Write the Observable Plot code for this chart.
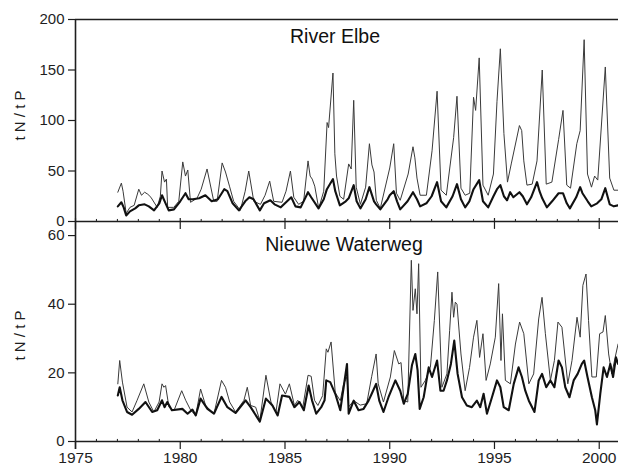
<!DOCTYPE html>
<html><head><meta charset="utf-8">
<script src="https://cdn.jsdelivr.net/npm/d3@7"></script>
<script src="https://cdn.jsdelivr.net/npm/@observablehq/plot@0.6"></script>
<style>
body{margin:0;background:#fff;}
#chart{position:relative;width:618px;height:465px;overflow:hidden;background:#fff;}
#chart svg{position:absolute;left:0;}
</style></head><body><div id="chart"></div>
<script>
// ---- data: [year, ratio] ----
const panelTitles = ["River Elbe", "Nieuwe Waterweg"];
const yLabel = "t\u00a0N\u00a0/\u00a0t\u00a0P";
const elbeTicks = [0, 50, 100, 150, 200];
const nwwTicks = [0, 20, 40, 60];
const majorYears = [1975, 1980, 1985, 1990, 1995, 2000];
const minorYears = [1976,1977,1978,1979,1981,1982,1983,1984,1986,1987,1988,1989,1991,1992,1993,1994,1996,1997,1998,1999];

const elbeThin = [[1977.02,29],[1977.19,38],[1977.27,30],[1977.42,8],[1977.6,14],[1977.8,16],[1978.02,32],[1978.15,26],[1978.3,29],[1978.45,27],[1978.6,24],[1978.9,14],[1979.05,25],[1979.13,50],[1979.25,39],[1979.34,42],[1979.4,14],[1979.69,14],[1979.93,20],[1980.12,59],[1980.25,45],[1980.36,51],[1980.49,19],[1980.8,23],[1981.0,32],[1981.28,52],[1981.6,20],[1981.76,20],[1982.0,58],[1982.16,49],[1982.35,35],[1982.55,20],[1982.87,11],[1983.1,30],[1983.27,50],[1983.51,20],[1983.83,17],[1984.05,26],[1984.27,40],[1984.46,20],[1984.86,19],[1985.05,30],[1985.26,50],[1985.42,24],[1985.65,17],[1985.89,20],[1986.1,60],[1986.2,45],[1986.3,42],[1986.42,35],[1986.61,13],[1986.85,30],[1987.01,98],[1987.08,93],[1987.29,147],[1987.38,67],[1987.46,45],[1987.62,25],[1987.8,22],[1988.04,57],[1988.16,52],[1988.28,120],[1988.4,34],[1988.6,17],[1988.85,34],[1989.03,77],[1989.15,56],[1989.25,49],[1989.36,21],[1989.55,13],[1990.0,53],[1990.19,77],[1990.32,28],[1990.5,21],[1990.88,47],[1991.11,74],[1991.2,63],[1991.3,43],[1991.45,26],[1991.75,26],[1992.02,70],[1992.26,129],[1992.45,31],[1992.7,26],[1993.05,83],[1993.21,124],[1993.4,33],[1993.6,26],[1993.82,28],[1994.0,123],[1994.1,110],[1994.27,162],[1994.45,36],[1994.7,26],[1994.95,47],[1995.12,119],[1995.28,171],[1995.45,87],[1995.62,39],[1995.8,57],[1996.19,95],[1996.3,90],[1996.4,60],[1996.55,36],[1996.8,37],[1997.03,60],[1997.28,150],[1997.47,37],[1997.74,39],[1998.06,81],[1998.27,110],[1998.45,36],[1998.63,33],[1998.93,77],[1999.09,90],[1999.28,180],[1999.44,47],[1999.63,34],[1999.78,45],[1999.93,41],[2000.29,153],[2000.5,43],[2000.7,31],[2000.9,31]];

const elbeThick = [[1977.02,15],[1977.19,19],[1977.3,14],[1977.42,6],[1977.6,10],[1977.85,13],[1978.02,16],[1978.3,17],[1978.5,15],[1978.75,11],[1979.0,18],[1979.13,26],[1979.3,18],[1979.45,11],[1979.7,12],[1980.0,20],[1980.25,28],[1980.4,22],[1980.6,22],[1980.9,23],[1981.2,26],[1981.5,20],[1981.8,22],[1982.1,32],[1982.25,30],[1982.5,18],[1982.8,11],[1983.1,20],[1983.3,24],[1983.5,22],[1983.8,11],[1984.0,18],[1984.3,21],[1984.5,17],[1984.8,14],[1985.1,20],[1985.3,24],[1985.5,15],[1985.75,14],[1986.1,29],[1986.25,24],[1986.6,13],[1986.85,22],[1987.0,32],[1987.29,42],[1987.4,30],[1987.62,16],[1987.9,20],[1988.04,23],[1988.28,36],[1988.42,20],[1988.6,13],[1988.85,22],[1989.03,34],[1989.25,20],[1989.35,17],[1989.55,12],[1989.9,22],[1990.0,26],[1990.19,30],[1990.35,20],[1990.5,12],[1990.85,20],[1991.11,29],[1991.3,22],[1991.45,15],[1991.75,18],[1992.0,25],[1992.26,39],[1992.45,20],[1992.7,14],[1993.0,25],[1993.21,37],[1993.4,22],[1993.6,14],[1993.8,20],[1994.0,32],[1994.27,41],[1994.45,20],[1994.7,14],[1994.95,25],[1995.12,32],[1995.28,36],[1995.45,25],[1995.6,21],[1995.75,29],[1995.9,24],[1996.19,29],[1996.35,25],[1996.55,17],[1996.75,24],[1997.03,39],[1997.15,30],[1997.28,23],[1997.5,14],[1997.75,20],[1998.06,28],[1998.27,28],[1998.45,18],[1998.6,13],[1998.9,24],[1999.09,34],[1999.2,28],[1999.45,20],[1999.62,15],[1999.9,18],[2000.1,22],[2000.29,33],[2000.5,17],[2000.7,15],[2000.9,16]];

const nwwThin = [[1977.02,16.8],[1977.11,23.6],[1977.24,17.3],[1977.46,10],[1977.7,8.6],[1977.94,12],[1978.26,16.8],[1978.5,11.5],[1978.74,8.6],[1978.99,11.5],[1979.13,16.8],[1979.22,15.8],[1979.3,16.3],[1979.46,10],[1979.7,9],[1980.07,14.8],[1980.26,12],[1980.5,9.1],[1980.74,7.6],[1980.97,15.3],[1981.21,10.5],[1981.61,8.1],[1981.97,17.8],[1982.16,15.8],[1982.36,11.5],[1982.64,8.6],[1983.04,12],[1983.2,15.8],[1983.36,10.5],[1983.6,10],[1983.8,6.1],[1984.09,19.3],[1984.33,11.5],[1984.57,8.6],[1984.76,16.8],[1985.02,13.8],[1985.21,16.8],[1985.45,10.5],[1985.61,12],[1985.85,10],[1986.1,19.3],[1986.25,19],[1986.41,12],[1986.57,10.5],[1986.8,13.4],[1986.97,27],[1987.05,26],[1987.2,29],[1987.4,14.2],[1987.64,11.9],[1987.8,16.8],[1987.96,18.8],[1988.04,10.1],[1988.28,11.9],[1988.59,10.6],[1988.9,11],[1989.14,19],[1989.35,25.5],[1989.45,16.8],[1989.7,11.5],[1990.03,18.8],[1990.22,26.5],[1990.43,22.6],[1990.54,23],[1990.67,11.9],[1990.86,11.5],[1991.03,52.8],[1991.11,38.2],[1991.22,44.5],[1991.3,37.2],[1991.38,51.8],[1991.49,15.8],[1991.7,17.8],[1991.94,21.6],[1992.13,35.3],[1992.29,49.4],[1992.49,15.8],[1992.73,19.7],[1992.86,32.4],[1992.97,43.5],[1993.05,36.2],[1993.13,40.6],[1993.21,40],[1993.4,25.5],[1993.6,14.8],[1993.81,21.6],[1994.0,30.4],[1994.16,35.3],[1994.29,24.5],[1994.45,31.4],[1994.6,17.8],[1994.8,22.6],[1995.04,30.4],[1995.2,46],[1995.31,23.6],[1995.38,37.2],[1995.52,17.8],[1995.76,16.8],[1996.0,28.4],[1996.2,34.8],[1996.4,31.4],[1996.64,16.8],[1996.87,19.7],[1997.11,35.7],[1997.27,42],[1997.43,31.4],[1997.67,17.8],[1997.86,23.6],[1998.03,34.8],[1998.22,33.3],[1998.5,16.8],[1998.7,23.6],[1998.94,36.2],[1999.09,30.4],[1999.22,45.5],[1999.37,48.8],[1999.49,35.3],[1999.65,18.8],[1999.86,18.8],[2000.02,31.4],[2000.18,31.9],[2000.29,36.7],[2000.45,25.5],[2000.6,19.7],[2000.76,24.5],[2000.9,28.4]];

const nwwThick = [[1977.02,13.4],[1977.11,15.8],[1977.24,12],[1977.46,8.6],[1977.7,7.8],[1978.02,9.5],[1978.34,11.5],[1978.66,8.6],[1978.9,9.1],[1979.13,12],[1979.25,10],[1979.38,11.5],[1979.6,9.1],[1980.1,9.5],[1980.35,8.1],[1980.58,9.3],[1980.74,7.6],[1980.97,12.5],[1981.3,9.5],[1981.61,8.1],[1981.97,13],[1982.25,10],[1982.64,8.3],[1983.12,12],[1983.36,10],[1983.8,5.8],[1984.09,12.5],[1984.4,10.5],[1984.65,7.6],[1984.86,13.4],[1985.21,13],[1985.45,10],[1985.69,11.5],[1985.9,9.1],[1986.13,16.3],[1986.29,12],[1986.49,8.1],[1986.73,10],[1986.89,12],[1986.97,17.8],[1987.16,17.3],[1987.4,13.9],[1987.64,9.1],[1987.8,15.8],[1987.96,22.6],[1988.04,8.1],[1988.28,11.9],[1988.51,9.1],[1988.75,9.5],[1988.99,11.9],[1989.14,13.9],[1989.35,16.8],[1989.5,11.9],[1989.7,8.6],[1989.94,12.9],[1990.27,17.8],[1990.5,14.8],[1990.67,11],[1990.86,13.9],[1991.06,22.2],[1991.22,25.5],[1991.33,20.7],[1991.43,9.5],[1991.62,12.9],[1991.86,21.6],[1992.02,18.8],[1992.26,23.6],[1992.42,14.8],[1992.57,14.8],[1992.73,17.8],[1992.92,22.6],[1993.08,29.4],[1993.24,19.7],[1993.45,12.9],[1993.68,10.5],[1993.92,10],[1994.16,11.9],[1994.32,10],[1994.48,13.9],[1994.64,8.1],[1994.88,12.9],[1995.12,17.8],[1995.28,15.8],[1995.44,10],[1995.68,9.1],[1995.92,16.8],[1996.15,21.6],[1996.31,18.8],[1996.47,14.8],[1996.64,11.9],[1996.91,8.6],[1997.11,17.8],[1997.27,19.7],[1997.47,15.8],[1997.67,17.8],[1997.86,15.8],[1998.06,23.6],[1998.22,21.6],[1998.38,15.8],[1998.58,12.9],[1998.78,17.8],[1998.97,19.7],[1999.17,22.6],[1999.28,23.6],[1999.44,18.8],[1999.65,12.9],[1999.81,9.1],[1999.89,5],[2000.05,13.9],[2000.21,21.6],[2000.37,18.8],[2000.53,22.6],[2000.66,18.8],[2000.8,24.5],[2000.9,22.6]];

// ---- drawing ----
const xDomain = [1975, 2000.92];
const ink = "#1e1e1e";
const font = "'Liberation Sans', Arial, Helvetica, sans-serif";
const styleObj = {background: "transparent", fontFamily: font, fontSize: "15px", color: ink, overflow: "visible"};

const topPlot = Plot.plot({
  width: 618, height: 222,
  marginLeft: 75, marginRight: 0, marginTop: 19, marginBottom: 1,
  style: styleObj,
  x: {domain: xDomain, axis: null},
  y: {domain: [0, 200]},
  marks: [
    Plot.ruleY([200], {stroke: ink, strokeWidth: 1.4}),
    Plot.ruleY([0], {stroke: ink, strokeWidth: 1.4}),
    Plot.ruleX([1975], {stroke: ink, strokeWidth: 1.6}),
    Plot.ruleX(minorYears, {x: d => d, y1: 0, y2: 2, stroke: ink, strokeWidth: 1}),
    Plot.ruleX(majorYears, {x: d => d, y1: 0, y2: 3, stroke: ink, strokeWidth: 1.2}),
    Plot.axisY({ticks: elbeTicks, tickSize: 7, tickPadding: 4, label: null, fontSize: 15, strokeWidth: 1.2}),
    Plot.line(elbeThin, {x: d => d[0], y: d => d[1], stroke: "#3a3a3a", strokeWidth: 1}),
    Plot.line(elbeThick, {x: d => d[0], y: d => d[1], stroke: "#111", strokeWidth: 2.1}),
    Plot.text([panelTitles[0]], {frameAnchor: "top", lineAnchor: "middle", dx: -12, dy: 17, fontSize: 19.5, fill: "#111"}),
    Plot.text([yLabel], {frameAnchor: "left", textAnchor: "middle", lineAnchor: "middle", dx: -55, dy: -5, rotate: -90, fontSize: 15, fill: ink})
  ]
});
topPlot.style.top = "0px";

const bottomPlot = Plot.plot({
  width: 618, height: 244,
  marginLeft: 75, marginRight: 0, marginTop: 0, marginBottom: 24,
  style: styleObj,
  x: {domain: xDomain},
  y: {domain: [0, 64.1]},
  marks: [
    Plot.ruleY([0], {stroke: ink, strokeWidth: 1.4}),
    Plot.ruleX([1975], {stroke: ink, strokeWidth: 1.6, insetBottom: -8}),
    Plot.ruleX(minorYears, {x: d => d, y1: 0, y2: 0.6, stroke: ink, strokeWidth: 1}),
    Plot.ruleX(majorYears, {x: d => d, y1: 64.1, y2: 61.8, stroke: ink, strokeWidth: 1.2}),
    Plot.axisY({ticks: nwwTicks, tickSize: 7, tickPadding: 4, label: null, fontSize: 15, strokeWidth: 1.2}),
    Plot.axisX({ticks: majorYears, tickSize: 8, tickPadding: 2, tickFormat: d => String(d), label: null, fontSize: 15.5, strokeWidth: 1.2}),
    Plot.line(nwwThin, {x: d => d[0], y: d => d[1], stroke: "#3a3a3a", strokeWidth: 1}),
    Plot.line(nwwThick, {x: d => d[0], y: d => d[1], stroke: "#111", strokeWidth: 2.1}),
    Plot.text([panelTitles[1]], {frameAnchor: "top", lineAnchor: "middle", dx: -3, dy: 23, fontSize: 19.5, fill: "#111"}),
    Plot.text([yLabel], {frameAnchor: "left", textAnchor: "middle", lineAnchor: "middle", dx: -55, dy: 4, rotate: -90, fontSize: 15, fill: ink})
  ]
});
bottomPlot.style.top = "221px";

const chart = document.getElementById("chart");
chart.appendChild(topPlot);
chart.appendChild(bottomPlot);
</script></body></html>
